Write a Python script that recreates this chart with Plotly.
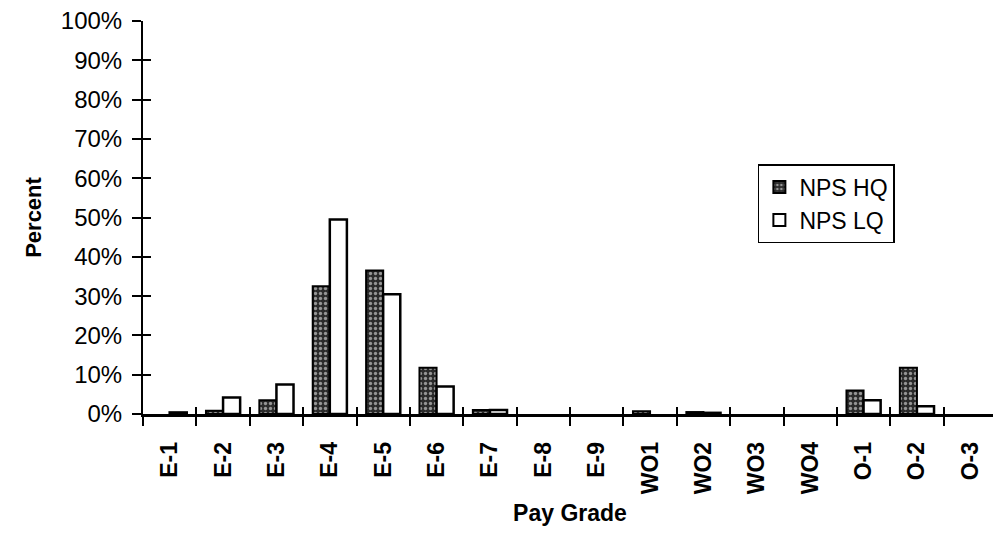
import plotly.graph_objects as go

grades = ["E-1", "E-2", "E-3", "E-4", "E-5", "E-6", "E-7", "E-8", "E-9",
          "WO1", "WO2", "WO3", "WO4", "O-1", "O-2", "O-3"]
nps_hq = [0.0, 0.8, 3.5, 32.5, 36.5, 11.8, 1.0, 0.0, 0.0, 0.7, 0.5, 0.0, 0.0, 6.0, 11.8, 0.0]
nps_lq = [0.4, 4.2, 7.5, 49.5, 30.5, 7.0, 1.0, 0.0, 0.0, 0.0, 0.3, 0.0, 0.0, 3.5, 2.0, 0.0]
y_ticks = list(range(0, 101, 10))
y_labels = [f"{v}%" for v in y_ticks]

FONT = "Liberation Sans, Arial, Helvetica, sans-serif"


def nz(vals):
    # zero values are not drawn as bars in the original chart
    return [v if v > 0 else None for v in vals]


fig = go.Figure()
fig.add_trace(go.Bar(
    name="NPS HQ", x=grades, y=nz(nps_hq),
    marker=dict(color="#2a2a2a",
                line=dict(color="black", width=2),
                pattern=dict(shape=".", fgcolor="white", bgcolor="#2a2a2a", size=5, solidity=0.35)),
))
fig.add_trace(go.Bar(
    name="NPS LQ", x=grades, y=nz(nps_lq),
    marker=dict(color="white", line=dict(color="black", width=2.5)),
))
# invisible helper trace so the inside-tick axes are drawn
fig.add_trace(go.Scatter(x=grades, y=[None] * len(grades), xaxis="x2", yaxis="y2",
                         showlegend=False, hoverinfo="skip", mode="markers"))

fig.update_layout(
    width=1001, height=544,
    paper_bgcolor="white", plot_bgcolor="white",
    margin=dict(l=135, r=12, t=13, b=138),
    barmode="group", bargap=0.36, bargroupgap=0,
    font=dict(family=FONT, color="black", size=22),
    showlegend=True,
    legend=dict(x=0.72, y=0.636, xanchor="left", yanchor="top",
                bgcolor="white", bordercolor="black", borderwidth=1.5,
                font=dict(family=FONT, size=23, color="black"),
                traceorder="normal", itemsizing="constant"),
    xaxis=dict(
        type="category", categoryorder="array", categoryarray=grades,
        range=[-0.5, 15.5], automargin=False,
        showline=True, linecolor="black", linewidth=2.5,
        ticks="outside", ticklen=9, tickwidth=1.5, tickcolor="black",
        tickson="boundaries", ticklabelstandoff=16, ticklabeloverflow="allow",
        tickangle=-90, tickfont=dict(family=FONT, size=23, weight="bold"),
        showgrid=False, zeroline=False,
        title=dict(text="Pay Grade", font=dict(family=FONT, size=23, weight="bold"), standoff=12),
    ),
    yaxis=dict(
        range=[0, 100], tickvals=y_ticks, ticktext=y_labels, automargin=False,
        showline=True, linecolor="black", linewidth=2,
        ticks="outside", ticklen=9, tickwidth=1.5, tickcolor="black",
        ticklabelstandoff=5, ticklabeloverflow="allow",
        tickfont=dict(family=FONT, size=24),
        showgrid=False, zeroline=False,
        title=dict(text="Percent", font=dict(family=FONT, size=22, weight="bold"), standoff=13),
    ),
    xaxis2=dict(
        type="category", categoryorder="array", categoryarray=grades,
        range=[-0.5, 15.5], overlaying="x", matches="x",
        ticks="inside", ticklen=7, tickwidth=1.5, tickcolor="black",
        tickson="boundaries", showticklabels=False, showline=False,
        showgrid=False, zeroline=False,
    ),
    yaxis2=dict(
        range=[0, 100], tickvals=y_ticks, overlaying="y", matches="y",
        ticks="inside", ticklen=8, tickwidth=1.5, tickcolor="black",
        showticklabels=False, showline=False, showgrid=False, zeroline=False,
    ),
)

fig.write_html("out.html")
